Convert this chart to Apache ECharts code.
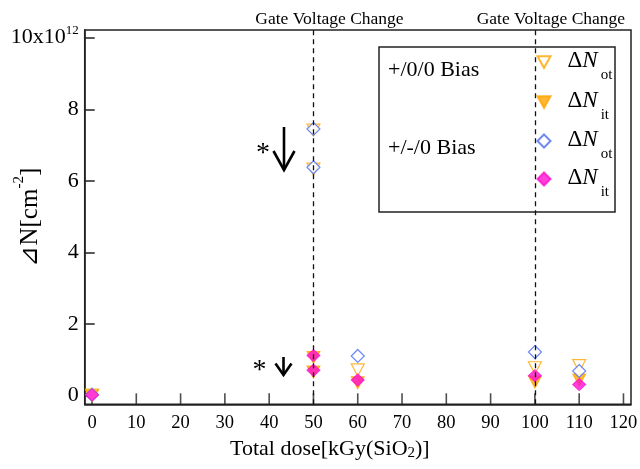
<!DOCTYPE html>
<html>
<head>
<meta charset="utf-8">
<script src="https://cdn.jsdelivr.net/npm/echarts@6/dist/echarts.min.js"></script>
<style>html,body{margin:0;padding:0;background:#fff}#c{width:640px;height:469px}</style>
</head>
<body>
<div id="c"></div>
<script>
// ---- data ----
const doses = [0, 50, 50, 60, 100, 110];
const notPlus00 = [0.02, 7.42, 6.33, 0.72, 0.78, 0.84];   // +/0/0 Bias ΔNot
const nitPlus00 = [0.00, 1.07, 0.66, 0.36, 0.38, 0.44];   // +/0/0 Bias ΔNit
const notPm0   = [0.03, 7.45, 6.38, 1.11, 1.22, 0.69];    // +/-/0 Bias ΔNot
const nitPm0   = [0.02, 1.12, 0.71, 0.44, 0.56, 0.31];    // +/-/0 Bias ΔNit
const xTicks = [0, 10, 20, 30, 40, 50, 60, 70, 80, 90, 100, 110, 120];
const yTicks = [0, 2, 4, 6, 8, 10];
const gateChanges = [50, 100];
const gateLabel = 'Gate Voltage Change';
const groupLabels = ['+/0/0 Bias', '+/-/0 Bias'];

const FF = 'Liberation Serif';
const ORANGE = '#FFA500', BLUE = '#4a6cf2', MAG = '#ff10d0';
const TRI = 'path://M0,0L10,0L5,9Z';
const X_MIN = -1.65, X_MAX = 121.7, Y_MIN = -0.24, Y_MAX = 10.215;

function pairs(xs, ys) { return xs.map((x, i) => [x, ys[i]]); }

const chart = echarts.init(document.getElementById('c'));

const legendRich = {
  d: { fontFamily: FF, fontSize: 23, color: '#000', padding: [8, 0, 0, 12], verticalAlign: 'top' },
  n: { fontFamily: FF, fontSize: 23, color: '#000', fontStyle: 'italic', padding: [8, 0, 0, 0], verticalAlign: 'top' },
  s: { fontFamily: FF, fontSize: 15, color: '#000', padding: [26, 0, 0, 3], verticalAlign: 'top' }
};
const rows = [70, 110, 149, 187];
const legendNames = ['ot1', 'it1', 'ot2', 'it2'];
const legends = legendNames.map((nm, i) => ({
  data: [nm], left: 536.5, top: rows[i] - 20.5, padding: 0, itemWidth: 13, itemHeight: 13,
  selectedMode: false, z: 6,
  formatter: n => '{d|Δ}{n|N}{s|' + (n.startsWith('ot') ? 'ot' : 'it') + '}',
  textStyle: { rich: legendRich }
}));

chart.setOption({
  animation: false,
  backgroundColor: '#fff',
  grid: { left: 84.7, top: 30, right: 9, bottom: 64.7, outerBoundsMode: 'none', containLabel: false,
    show: true, borderColor: '#222', borderWidth: 1.5, backgroundColor: 'transparent' },
  legend: legends,
  xAxis: {
    type: 'value', min: X_MIN, max: X_MAX,
    axisLine: { show: true, onZero: false, lineStyle: { color: '#222', width: 1.5 } },
    splitLine: { show: false },
    axisTick: { show: false },
    axisLabel: { customValues: xTicks, fontFamily: FF, fontSize: 18.5, color: '#000', margin: 9 },
    name: 'Total dose[kGy(SiO{s|2})]',
    nameLocation: 'middle', nameGap: 34, nameMoveOverlap: false,
    nameTextStyle: { fontFamily: FF, fontSize: 22, color: '#000', padding: [0, 56, 0, 0],
      rich: { s: { fontFamily: FF, fontSize: 15, color: '#000', verticalAlign: 'bottom' } } }
  },
  yAxis: {
    type: 'value', min: Y_MIN, max: Y_MAX,
    axisLine: { show: true, onZero: false, lineStyle: { color: '#222', width: 1.5 } },
    splitLine: { show: false },
    axisTick: { show: true, inside: true, length: 10, customValues: yTicks, lineStyle: { color: '#222', width: 1.5 } },
    axisLabel: {
      customValues: yTicks, margin: 6,
      formatter: v => v === 10 ? '{b|10x10}{s|12}' : '{b|' + v + '}',
      rich: {
        b: { fontFamily: FF, fontSize: 22, color: '#000', padding: [3, 0, 3, 0] },
        s: { fontFamily: FF, fontSize: 13, color: '#000', verticalAlign: 'top' }
      }
    },
    name: '{a|⊿N[cm}{s|-2}{a|]}',
    nameLocation: 'middle', nameGap: 42, nameRotate: 90, nameMoveOverlap: false,
    nameTextStyle: { rich: {
      a: { fontFamily: FF, fontSize: 25, color: '#000', padding: [6, 0, 0, 0] },
      s: { fontFamily: FF, fontSize: 15, color: '#000', verticalAlign: 'top' }
    } }
  },
  series: [
    // inward x-axis tick marks, placed at the tick values on the bottom edge
    { name: 'xticks', type: 'scatter', silent: true, z: 1, clip: false,
      data: xTicks.map(v => [v, Y_MIN]),
      symbol: 'rect', symbolSize: [1.6, 11], symbolOffset: [0, -5.5],
      itemStyle: { color: '#222', borderWidth: 0 }, emphasis: { disabled: true } },
    { name: 'ot1', type: 'scatter', data: pairs(doses, notPlus00), symbol: TRI, symbolSize: [13, 12],
      itemStyle: { color: '#fff', borderColor: ORANGE, borderWidth: 1.2 },
      markLine: {
        silent: true, symbol: ['none', 'none'],
        lineStyle: { color: '#111', type: [5, 4], width: 1.3 },
        label: { show: true, position: 'end', formatter: gateLabel, fontFamily: FF, fontSize: 17.5, color: '#000', distance: 2, padding: [0, 0, 0, 32] },
        data: gateChanges.map(x => ({ xAxis: x }))
      }
    },
    { name: 'it1', type: 'scatter', data: pairs(doses, nitPlus00), symbol: TRI, symbolSize: [13, 12],
      itemStyle: { color: ORANGE, borderColor: ORANGE, borderWidth: 1 } },
    { name: 'ot2', type: 'scatter', data: pairs(doses, notPm0), symbol: 'diamond', symbolSize: [13, 13],
      itemStyle: { color: '#fff', borderColor: BLUE, borderWidth: 1.2 } },
    { name: 'it2', type: 'scatter', data: pairs(doses, nitPm0), symbol: 'diamond', symbolSize: [13, 12],
      itemStyle: { color: MAG, borderColor: MAG, borderWidth: 1 } }
  ],
  graphic: [
    { type: 'rect', z: 3, shape: { x: 379, y: 47, width: 236, height: 165 },
      style: { fill: '#fff', stroke: '#222', lineWidth: 1.5 } },
    { type: 'text', z: 6, x: 388, y: 70, style: { text: groupLabels[0], font: '22px "Liberation Serif"', fill: '#000', verticalAlign: 'middle' } },
    { type: 'text', z: 6, x: 388, y: 148, style: { text: groupLabels[1], font: '22px "Liberation Serif"', fill: '#000', verticalAlign: 'middle' } },
    { type: 'text', z: 6, x: 263, y: 154, style: { text: '*', font: '28px "Liberation Serif"', fill: '#000', align: 'center', verticalAlign: 'middle' } },
    { type: 'text', z: 6, x: 259.5, y: 371, style: { text: '*', font: '28px "Liberation Serif"', fill: '#000', align: 'center', verticalAlign: 'middle' } },
    { type: 'polyline', z: 6, shape: { points: [[284, 127], [284, 170]] }, style: { stroke: '#000', lineWidth: 2.6 } },
    { type: 'polyline', z: 6, shape: { points: [[273.5, 151], [284, 170], [294.5, 151]] }, style: { stroke: '#000', lineWidth: 2.6, fill: null } },
    { type: 'polyline', z: 6, shape: { points: [[283.5, 357], [283.5, 375]] }, style: { stroke: '#000', lineWidth: 2.6 } },
    { type: 'polyline', z: 6, shape: { points: [[275.5, 363.5], [283.5, 375], [291.5, 363.5]] }, style: { stroke: '#000', lineWidth: 2.6, fill: null } }
  ]
});
</script>
</body>
</html>
